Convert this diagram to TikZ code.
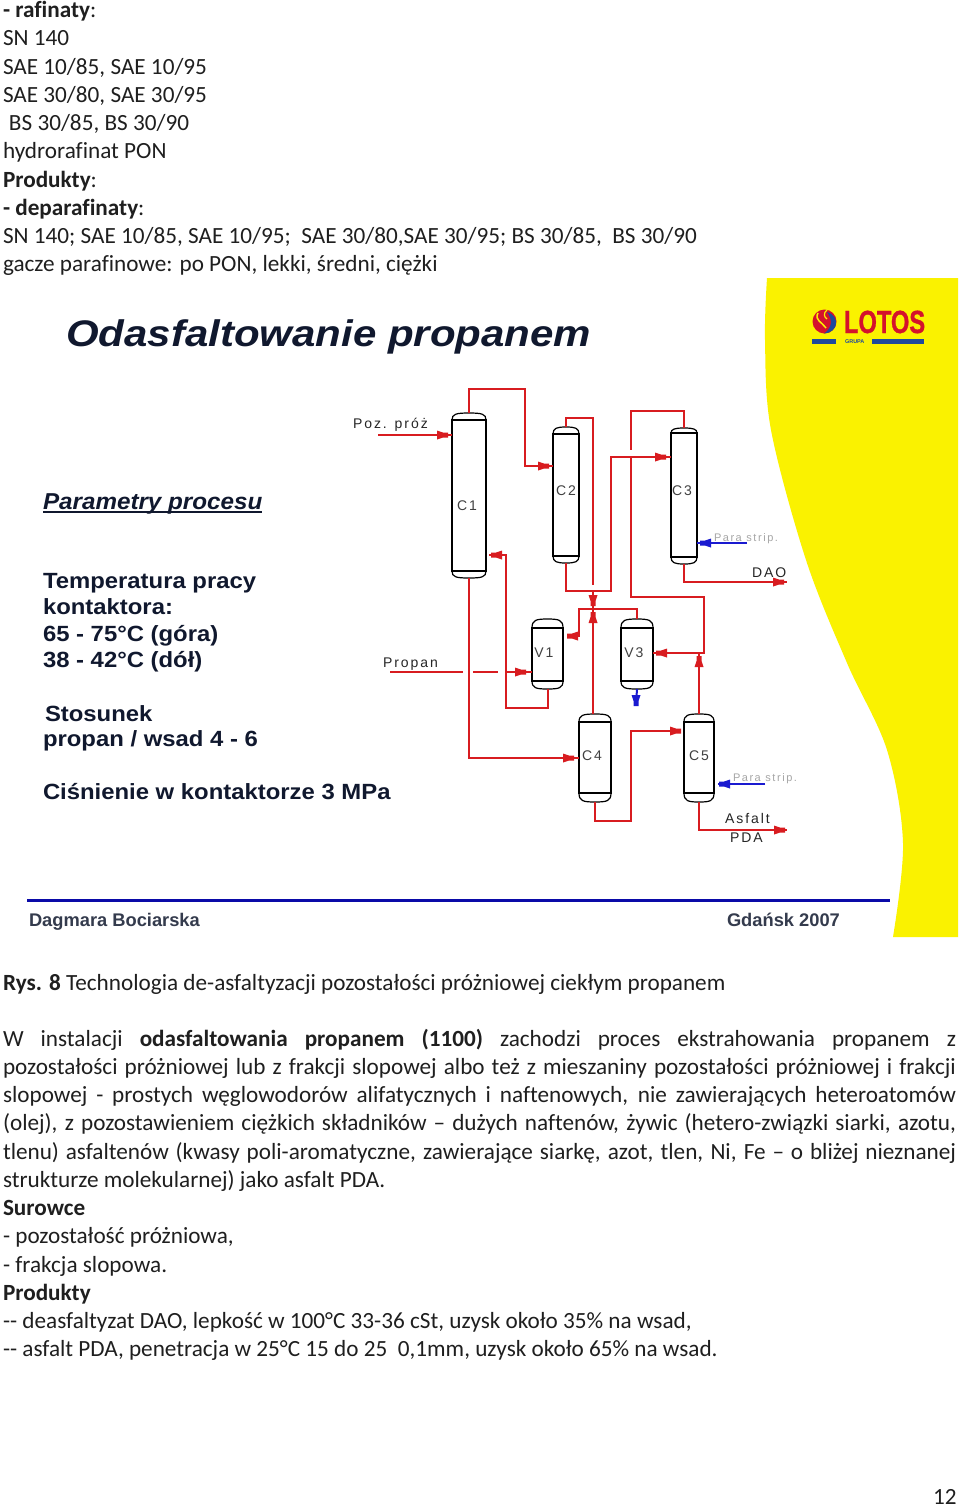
\documentclass[tikz,border=0pt]{standalone}
\usepackage{fontspec}
\usetikzlibrary{calc}
\setmainfont[Ligatures=NoCommon]{Carlito}
\newfontfamily\slide{Liberation Sans}
\newfontfamily\lab[LetterSpace=14]{Liberation Sans}
\newfontfamily\lotosfont[FakeBold=1.2]{Liberation Sans Bold}
\definecolor{ylw}{HTML}{FAF200}
\definecolor{pipered}{HTML}{D81C20}
\definecolor{pipeblue}{HTML}{1A1AD0}
\definecolor{navy}{HTML}{10182E}
\definecolor{barblue}{HTML}{0A0AA8}
\definecolor{lotosred}{HTML}{D4122C}
\definecolor{lotosblue}{HTML}{1F4A9C}
\tikzset{
  every node/.style={inner sep=0pt,outer sep=0pt},
  body/.style={anchor=base west,font=\fontsize{23.2}{28}\selectfont,text=black!88},
  pipe/.style={draw=pipered,line width=2pt},
  bluepipe/.style={draw=pipeblue,line width=2pt},
  vessel/.style={rectangle},
  vlabel/.style={font=\lab\fontsize{14}{16}\selectfont,text=black!75},
  plabel/.style={font=\lab\fontsize{14}{16}\selectfont,text=black!85,anchor=base west},
  glabel/.style={font=\lab\fontsize{11}{14}\selectfont,text=black!35,anchor=base west},
  slidetext/.style={anchor=base west,font=\slide\bfseries\fontsize{22}{26}\selectfont,text=navy},
}
\newcommand{\tline}[3]{\node[body] (#1) at (3,#2) {#3};}
\newcommand{\jline}[3]{\node[body] (#1) at (3,#2) {\makebox[953pt][s]{#3}};}
\newcommand{\sx}[1]{\scalebox{1.085}[1]{#1}}
\newcommand{\vesselshape}[7]{%
  \pgfmathsetmacro{\vw}{#3-#2}\pgfmathsetmacro{\vh}{#7-#4}%
  \pgfmathsetmacro{\vx}{(#2+#3)/2}\pgfmathsetmacro{\vy}{(#4+#7)/2}%
  \node[vessel,minimum width=\vw pt,minimum height=\vh pt] (#1) at (\vx,\vy) {};
  \draw[line width=2pt] (#2,#5) rectangle (#3,#6);
  \draw[line width=1.2pt] (#2,#5) .. controls (#2,#4+1) and (#2+4,#4) .. (\vx,#4) .. controls (#3-4,#4) and (#3,#4+1) .. (#3,#5);
  \draw[line width=1.2pt] (#2,#6) .. controls (#2,#7-1) and (#2+4,#7) .. (\vx,#7) .. controls (#3-4,#7) and (#3,#7-1) .. (#3,#6);
}
\newcommand{\mk}[4]{\begin{scope}[shift={(#1,#2)},rotate=#3]
  \fill[#4] (-5,-4.5) -- (-5,4.5) -- (1,2.5) -- (6,2.5) -- (6,-2.5) -- (1,-2.5) -- cycle;
\end{scope}}
\begin{document}
\begin{tikzpicture}[x=1pt,y=-1pt]
\useasboundingbox (0,0) rectangle (960,1508);
\fill[white] (0,0) rectangle (960,1508);
% yellow band
\fill[ylw] plot[smooth,tension=0.55] coordinates {(767,278) (765,340) (771,430) (806,560) (847,663) (887,750) (903,843) (893,937)} -- (958,937) -- (958,278) -- cycle;
% top text
\tline{t1}{17}{\textbf{- rafinaty}:}
\tline{t2}{45}{SN 140}
\tline{t3}{74}{SAE 10/85, SAE 10/95}
\tline{t4}{102}{SAE 30/80, SAE 30/95}
\node[body] (t5) at (9,130) {BS 30/85, BS 30/90};
\tline{t6}{158}{hydrorafinat PON}
\tline{t7}{187}{\textbf{Produkty}:}
\tline{t8}{215}{\textbf{- deparafinaty}:}
\tline{t9}{243}{SN 140; SAE 10/85, SAE 10/95;\ \ SAE 30/80,SAE 30/95; BS 30/85,\ \ BS 30/90}
\tline{t10}{271}{gacze parafinowe: po PON, lekki, średni, ciężki}
% slide title
\node[anchor=base west,font=\slide\bfseries\itshape\fontsize{37}{42}\selectfont,text=navy] (title) at (66,346) {\scalebox{1.135}[1]{Odasfaltowanie propanem}};
% logo
\fill[lotosred] (824.5,321.5) circle (12);
\fill[lotosblue] (827,312) .. controls (841,316) and (838,333) .. (824,333.5) .. controls (832,328) and (833,320) .. (827,312) -- cycle;
\draw[ylw,line width=1.5pt] (818,313) .. controls (814,320) and (822,322) .. (826,328);
\draw[ylw,line width=1.2pt] (827,310) .. controls (823,313) and (824,317) .. (827,319);
\node[anchor=base west,text=lotosred,font=\lotosfont\fontsize{32}{34}\selectfont] (lotos) at (844,333) {\scalebox{0.74}[1]{LOTOS}};
\fill[lotosblue] (812,338.7) rectangle (836,343.5);
\fill[lotosblue] (872,338.7) rectangle (924,343.5);
\node[anchor=base west,text=lotosblue,font=\slide\bfseries\fontsize{5.5}{6}\selectfont] (grupa) at (845,343.5) {GRUPA};
% parameters
\node[anchor=base west,font=\slide\bfseries\itshape\fontsize{23}{26}\selectfont,text=navy] (par) at (43,509) {\scalebox{1.053}[1]{Parametry procesu}};
\draw[navy,line width=1.5pt] (43,512) -- (262,512);
\node[slidetext] (p1) at (43,588) {\sx{Temperatura pracy}};
\node[slidetext] (p2) at (43,614) {\sx{kontaktora:}};
\node[slidetext] (p3) at (43,641) {\sx{65 - 75°C (góra)}};
\node[slidetext] (p4) at (43,667) {\sx{38 - 42°C (dół)}};
\node[slidetext] (p5) at (45,721) {\sx{Stosunek}};
\node[slidetext] (p6) at (43,746) {\sx{propan / wsad 4 - 6}};
\node[slidetext] (p7) at (43,799) {\sx{Ciśnienie w kontaktorze 3 MPa}};
% vessels
\vesselshape{C1}{452}{486}{413}{420}{571}{578}
\vesselshape{C2}{553}{579}{427}{434}{556}{563}
\vesselshape{C3}{671}{697}{428}{433}{557}{564}
\vesselshape{V1}{532}{563}{619}{628}{681}{689}
\vesselshape{V3}{621}{653}{619}{628}{681}{689}
\vesselshape{C4}{579}{611}{714}{722}{793}{802}
\vesselshape{C5}{684}{714}{714}{722}{793}{802}
\node[vlabel] (lC1) at (467,506) {C1};
\node[vlabel] (lC2) at (566,491) {C2};
\node[vlabel] (lC3) at (682,491) {C3};
\node[vlabel] (lV1) at (544,653) {V1};
\node[vlabel] (lV3) at (634,653) {V3};
\node[vlabel] (lC4) at (592,756) {C4};
\node[vlabel] (lC5) at (699,756) {C5};
% free ends
\coordinate (pozin) at (378,435);
\coordinate (propin) at (390,672);
\coordinate (daoout) at (787,582);
\coordinate (pdaout) at (787,830);
\coordinate (strip3) at (747,543);
\coordinate (strip5) at (765,784);
\coordinate (strip5e) at (718,784);
\coordinate (drain) at (636,705);
% pipes
\draw[pipe] (pozin) -- (C1.west |- 0,435);
\draw[pipe] (C1.north) |- (525,389) |- (C2.west |- 0,466);
\draw[pipe] (C2.north) |- (593,418) -- (593,585);
\draw[pipe] ($(C4.north)+(-2,0)$) -- (593,591);
\draw[pipe] (C2.south) |- (611,591) |- (C3.west |- 0,457);
\draw[pipe] (C3.north) |- (631,411) -- (631,450);
\draw[pipe] (631,457) |- (704,597) |- (V3.east |- 0,653);
\draw[pipe] (C5.north) -- (699,653);
\draw[pipe] (C3.south) |- (daoout);
\draw[pipe] (V3.north) |- (579,609) |- (567,636);
\draw[pipe] (489,555) -| (506,708) -| (V1.south);
\draw[pipe] (506,672) -- (V1.west |- 0,672);
\draw[pipe] (propin) -- (463,672);
\draw[pipe] (473,672) -- (498,672);
\draw[pipe] (C1.south) |- (C4.west |- 0,758);
\draw[pipe] (C4.south) |- (631,821) |- (680,731);
\draw[pipe] (C5.south) |- (pdaout);
\draw[bluepipe] (strip3) -- (C3.east |- 0,543);
\draw[bluepipe] (strip5) -- (strip5e);
\draw[bluepipe] (V3.south) -- (drain);
% valve markers
\mk{442}{435}{0}{pipered}
\mk{543}{466}{0}{pipered}
\mk{497}{555}{180}{pipered}
\mk{660}{457}{0}{pipered}
\mk{593}{600}{-90}{pipered}
\mk{593}{618}{90}{pipered}
\mk{573}{636}{180}{pipered}
\mk{520}{672}{0}{pipered}
\mk{568}{758}{0}{pipered}
\mk{662}{653}{180}{pipered}
\mk{699}{662}{90}{pipered}
\mk{675}{731}{0}{pipered}
\mk{778}{582}{0}{pipered}
\mk{779}{830}{0}{pipered}
\mk{706}{543}{180}{pipeblue}
\mk{725}{784}{180}{pipeblue}
\mk{636}{700}{-90}{pipeblue}
% pipe labels
\node[plabel] (lpoz) at (353,428) {Poz. próż};
\node[plabel] (lprop) at (383,667) {Propan};
\node[glabel] (lstrip3) at (714,541) {Para strip.};
\node[plabel] (ldao) at (752,577) {DAO};
\node[glabel] (lstrip5) at (733,781) {Para strip.};
\node[plabel] (lasf) at (725,823) {Asfalt};
\node[plabel] (lpda) at (730,842) {PDA};
% footer
\draw[barblue,line width=3pt] (27,900.5) -- (890,900.5);
\node[anchor=base west,font=\slide\bfseries\fontsize{18.3}{20}\selectfont,text=navy!85] (foot1) at (29,926) {Dagmara Bociarska};
\node[anchor=base west,font=\slide\bfseries\fontsize{18.3}{20}\selectfont,text=navy!85] (foot2) at (727,926) {Gdańsk 2007};
% lower text
\tline{b0}{990}{\textbf{Rys. 8} Technologia de-asfaltyzacji pozostałości próżniowej ciekłym propanem}
\jline{b1}{1046}{W instalacji \textbf{odasfaltowania propanem (1100)} zachodzi proces ekstrahowania propanem z}
\jline{b2}{1074}{pozostałości próżniowej lub z frakcji slopowej albo też z mieszaniny pozostałości próżniowej i frakcji}
\jline{b3}{1102}{slopowej - prostych węglowodorów alifatycznych i naftenowych, nie zawierających heteroatomów}
\jline{b4}{1130}{(olej), z pozostawieniem ciężkich składników – dużych naftenów, żywic (hetero-związki siarki, azotu,}
\jline{b5}{1159}{tlenu) asfaltenów (kwasy poli-aromatyczne, zawierające siarkę, azot, tlen, Ni, Fe – o bliżej nieznanej}
\tline{b6}{1187}{strukturze molekularnej) jako asfalt PDA.}
\tline{b7}{1215}{\textbf{Surowce}}
\tline{b8}{1243}{- pozostałość próżniowa,}
\tline{b9}{1272}{- frakcja slopowa.}
\tline{b10}{1300}{\textbf{Produkty}}
\tline{b11}{1328}{{-}{-} deasfaltyzat DAO, lepkość w 100°C 33-36 cSt, uzysk około 35\% na wsad,}
\tline{b12}{1356}{{-}{-} asfalt PDA, penetracja w 25°C 15 do 25\ \ 0,1mm, uzysk około 65\% na wsad.}
\node[body] (pg) at (933,1504) {12};
\end{tikzpicture}
\end{document}
